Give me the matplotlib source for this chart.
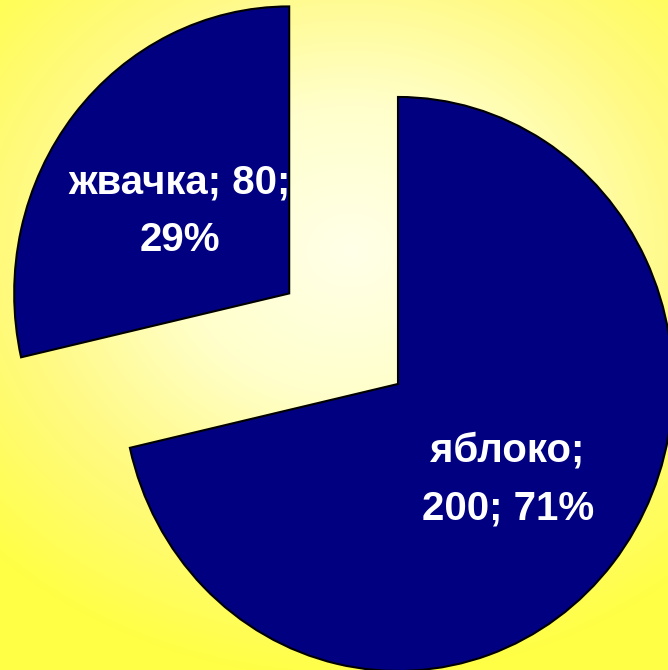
import numpy as np
import matplotlib.pyplot as plt
from matplotlib.colors import LinearSegmentedColormap

categories = ["яблоко", "жвачка"]
values = [200, 80]
percents = [round(v * 100 / sum(values)) for v in values]
labels = [
    f"{categories[0]};\n{values[0]}; {percents[0]}%",
    f"{categories[1]}; {values[1]};\n{percents[1]}%",
]

W, H = 668, 670
fig = plt.figure(figsize=(W / 100, H / 100), dpi=100)

# light radial gradient behind the chart
bg = fig.add_axes([0, 0, 1, 1])
yy, xx = np.mgrid[0:H, 0:W]
dist = np.hypot((xx - 350) * 0.85, yy - 250) / 430.0
cmap = LinearSegmentedColormap.from_list("bg", ["#FFFFE8", "#FFFFCC", "#FFFA80", "#FFFF45"])
bg.imshow(np.clip(dist, 0, 1), cmap=cmap, vmin=0, vmax=1, aspect="auto")
bg.axis("off")

ax = fig.add_axes([0, 0, 1, 1])
ax.patch.set_alpha(0)
wedges, texts = ax.pie(
    values,
    labels=labels,
    startangle=90,
    counterclock=False,
    explode=[0.253, 0.253],
    labeldistance=0.51,
    colors=["#000080", "#000080"],
    wedgeprops=dict(edgecolor="black", linewidth=1.5),
    textprops=dict(color="white", fontsize=29, fontweight="bold",
                   family=["Liberation Sans", "DejaVu Sans"]),
)
for t, w, dy in zip(texts, wedges, [0.015, 0.03]):
    x, y = t.get_position()
    t.set_position((x, y - dy))
    t.set_ha("center")
    t.set_va("center")
    t.set_multialignment("center")
    t.set_linespacing(1.65)
    t.set_clip_on(True)
    t.set_clip_path(w)

ax.set_aspect("auto")
ax.set_xlim(-343.6 / 275, (W - 343.6) / 275)
ax.set_ylim(-(H - 338.7) / 287, 338.7 / 287)
ax.axis("off")

fig.savefig("out.png", dpi=100)
